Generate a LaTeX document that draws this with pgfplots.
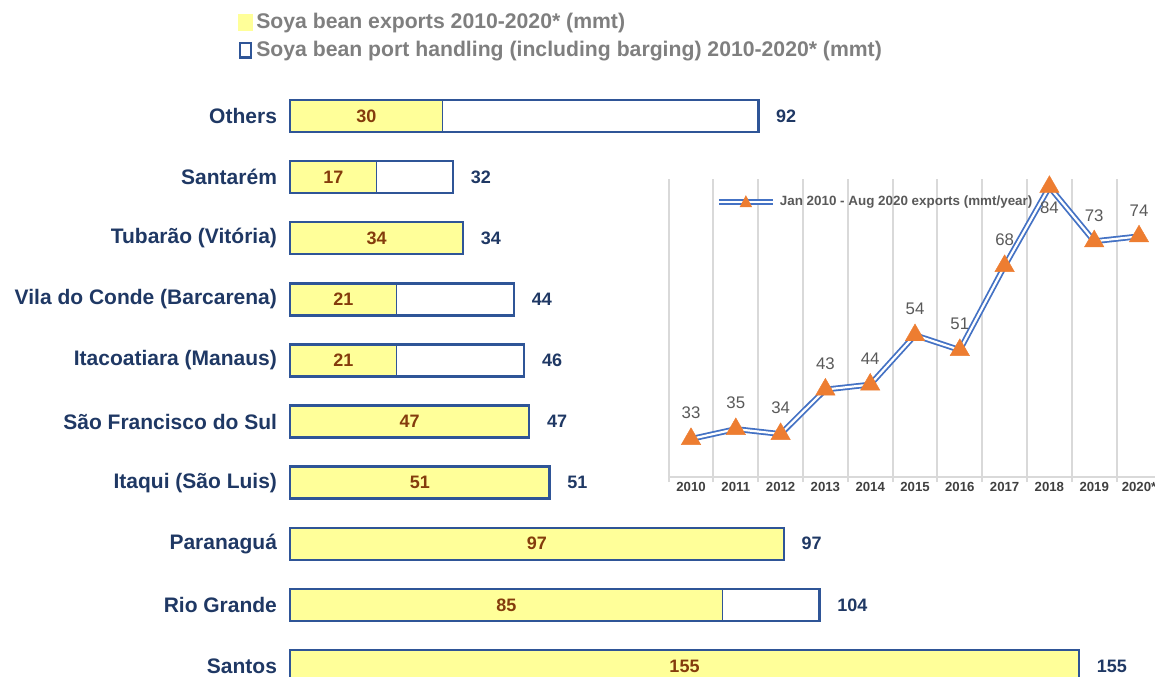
\documentclass[border=0pt]{standalone}
\usepackage{fontspec}
\setmainfont{Liberation Sans}
\usepackage{pgfplots}
\usepackage{pgfplotstable}
\pgfplotsset{compat=1.18}
\definecolor{navy}{HTML}{1F3864}
\definecolor{barblue}{HTML}{2F5597}
\definecolor{ylw}{HTML}{FFFF99}
\definecolor{brownC}{HTML}{843C0C}
\definecolor{legray}{HTML}{7F7F7F}
\definecolor{lineblue}{HTML}{4472C4}
\definecolor{orangeC}{HTML}{ED7D31}
\definecolor{gridgray}{HTML}{D9D9D9}
\definecolor{lblgray}{HTML}{595959}
\definecolor{tickgray}{HTML}{404040}

\pgfplotstableread{
pos exp hand
0 155 155
1 85 104
2 97 97
3 51 51
4 47 47
5 21 46
6 21 44
7 34 34
8 17 32
9 30 92
}\portdata

\pgfplotstableread{
year val
2010 33
2011 35
2012 34
2013 43
2014 44
2015 54
2016 51
2017 68
2018 84
2019 73
2020 74
}\yeardata

\begin{document}
\begin{tikzpicture}
\useasboundingbox (0,0) rectangle (577.5pt,338pt);
\clip (0,0) rectangle (577.5pt,338pt);
\begin{axis}[
  at={(145pt,-10.28pt)}, anchor=south west,
  scale only axis, width=394.5pt, height=305.56pt,
  xmin=0, xmax=155, ymin=-0.5, ymax=9.5,
  xbar, bar width=16pt, bar shift=0pt,
  axis line style={draw=none}, xtick=\empty,
  ytick={0,...,9},
  yticklabels={Santos,Rio Grande,Paranaguá,Itaqui (São Luis),São Francisco do Sul,Itacoatiara (Manaus),Vila do Conde (Barcarena),Tubarão (Vitória),Santarém,Others},
  major tick length=0pt,
  yticklabel style={font=\fontsize{10.5}{12}\selectfont\bfseries, text=navy, xshift=-3pt},
  /pgf/number format/assume math mode=true,
  clip=false,
  legend style={at={(-0.066,1.1255)}, anchor=north west, draw=none, fill=none,
    font=\fontsize{10.6}{12}\selectfont\bfseries, text=legray, row sep=0.8pt, inner sep=0pt},
  legend cell align=left,
]
\addplot[fill=ylw, draw=barblue, line width=0.4pt, bar shift=0pt,
  nodes near coords, visualization depends on={x \as \rawx},
  every node near coord/.append style={anchor=center, xshift={-\rawx*1.27258},
    font=\fontsize{9}{10}\selectfont\bfseries, text=brownC},
  legend image code/.code={\fill[ylw] (0pt,-3.9pt) rectangle (6.6pt,3.9pt);}
] table[x=exp, y=pos] {\portdata};
\addlegendentry{Soya bean exports 2010-2020* (mmt)}
\addplot[fill=none, draw=barblue, line width=1.2pt, bar shift=0pt,
  nodes near coords,
  every node near coord/.append style={anchor=west, xshift=5pt,
    font=\fontsize{9}{10}\selectfont\bfseries, text=navy},
  legend image code/.code={\draw[barblue, line width=1.3pt, fill=white] (0.65pt,-3.6pt) rectangle (6.1pt,3.6pt);}
] table[x=hand, y=pos] {\portdata};
\addlegendentry{Soya bean port handling (including barging) 2010-2020* (mmt)}
\end{axis}

\begin{axis}[
  at={(334.3pt,99.5pt)}, anchor=south west,
  scale only axis, width=246.4pt, height=149pt,
  xmin=2009.5, xmax=2020.5, ymin=25.3, ymax=85.6,
  axis y line=none, axis x line*=bottom,
  x axis line style={draw=gridgray, line width=1pt},
  xtick={2010,2011,2012,2013,2014,2015,2016,2017,2018,2019,2020},
  xticklabels={2010,2011,2012,2013,2014,2015,2016,2017,2018,2019,2020*},
  minor xtick={2009.5,2010.5,2011.5,2012.5,2013.5,2014.5,2015.5,2016.5,2017.5,2018.5,2019.5,2020.5},
  xminorgrids, minor x grid style={gridgray, line width=1pt},
  major tick length=0pt, minor tick length=2.5pt, tick align=outside,
  minor tick style={gridgray, line width=1pt},
  xticklabel style={font=\fontsize{6.6}{8}\selectfont\bfseries, text=tickgray, yshift=1pt},
  /pgf/number format/assume math mode=true,
  clip=false,
  legend style={at={(0.083,0.923)}, anchor=west, draw=none, fill=none,
    font=\fontsize{6.7}{8}\selectfont\bfseries, text=lblgray},
]
\addplot[lineblue, line width=2.9pt, forget plot] table[x=year, y=val] {\yeardata};
\addplot[white, line width=1.1pt, mark=triangle*, mark size=5.6pt,
  mark options={fill=orangeC, draw=orangeC, line width=0.2pt},
  nodes near coords, visualization depends on={y \as \rawy},
  every node near coord/.append style={anchor=center,
    yshift={(\rawy>80) ? -10.5 : 13},
    font=\fontsize{8.4}{10}\selectfont, text=lblgray},
  legend image code/.code={
    \draw[lineblue, line width=3pt] (0pt,0pt) -- (27pt,0pt);
    \draw[white, line width=1.2pt] (0pt,0pt) -- (27pt,0pt);
    \fill[orangeC] (11.3pt,-2pt) -- (15.7pt,-2pt) -- (13.5pt,2.2pt) -- cycle;}
] table[x=year, y=val] {\yeardata};
\addlegendentry{Jan 2010 - Aug 2020 exports (mmt/year)}
\end{axis}
\end{tikzpicture}
\end{document}
